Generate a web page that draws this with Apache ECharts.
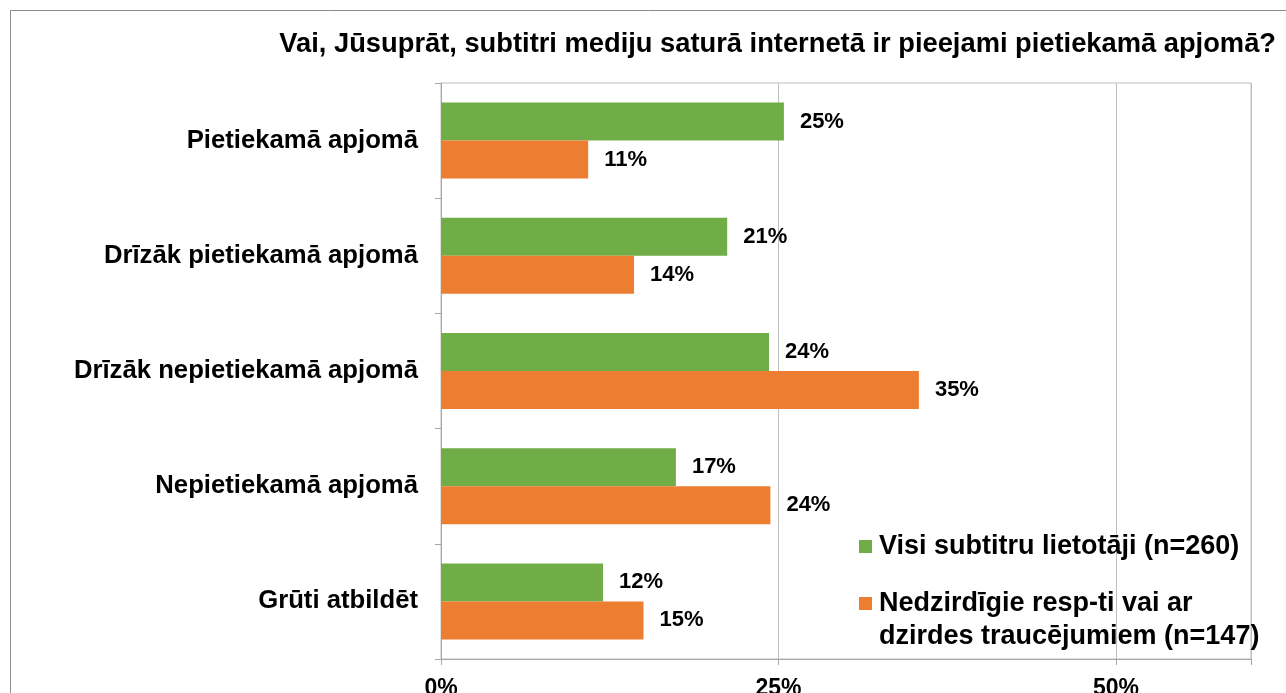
<!DOCTYPE html>
<html>
<head>
<meta charset="utf-8">
<script src="https://cdn.jsdelivr.net/npm/echarts@6/dist/echarts.min.js"></script>
<style>
  html, body { margin: 0; padding: 0; background: #fff; }
  #chart { width: 1286px; height: 693px; }
</style>
</head>
<body>
<div id="chart"></div>
<script>
// data
const categories = [
  'Pietiekamā apjomā',
  'Drīzāk pietiekamā apjomā',
  'Drīzāk nepietiekamā apjomā',
  'Nepietiekamā apjomā',
  'Grūti atbildēt'
];
const allUsers = [25.4, 21.2, 24.3, 17.4, 12.0];
const deafUsers = [10.9, 14.3, 35.4, 24.4, 15.0];
const seriesNames = [
  'Visi subtitru lietotāji (n=260)',
  'Nedzirdīgie resp-ti vai ar\ndzirdes traucējumiem (n=147)'
];
const titleText = 'Vai, Jūsuprāt, subtitri mediju saturā internetā ir pieejami pietiekamā apjomā?';

const font = 'Liberation Sans, Arial, sans-serif';
const gray = '#bfbfbf';

let chart = echarts.init(document.getElementById('chart'));

let barLabel = {
  show: true,
  position: 'right',
  distance: 16,
  color: '#000',
  fontWeight: 'bold',
  fontSize: 22,
  fontFamily: font,
  padding: [6, 0, 0, 0],
  formatter: p => Math.round(p.value) + '%'
};

let legendText = { color: '#000', fontWeight: 'bold', fontSize: 27, fontFamily: font, lineHeight: 33 };

let option = {
  animation: false,
  title: {
    text: titleText,
    right: 10,
    top: 31,
    padding: 0,
    textStyle: { color: '#000', fontWeight: 'bold', fontSize: 27.3, fontFamily: font }
  },
  legend: [{
    data: [seriesNames[0]],
    left: 859,
    top: 528,
    padding: 0,
    icon: 'rect',
    itemWidth: 13,
    itemHeight: 13,
    textStyle: Object.assign({ padding: [4, 0, 0, 2] }, legendText)
  }, {
    data: [seriesNames[1]],
    left: 859,
    top: 554,
    padding: 0,
    icon: 'rect',
    itemWidth: 13,
    itemHeight: 13,
    // empty first line so the icon sits beside the first text line
    formatter: name => '{s| }\n' + name.split('\n').map(l => '{a|' + l + '}').join('\n'),
    textStyle: Object.assign({ rich: { a: legendText, s: legendText }, padding: [0, 0, 0, 2] }, legendText)
  }],
  grid: {
    left: 441,
    right: 35,
    top: 83,
    bottom: 34,
    outerBoundsMode: 'none',
    show: true,
    borderColor: gray,
    borderWidth: 1
  },
  xAxis: {
    type: 'value',
    min: 0,
    max: 60,
    interval: 25,
    axisLine: { show: true, lineStyle: { color: '#a6a6a6' } },
    axisTick: { show: true, length: 6, lineStyle: { color: '#a6a6a6' } },
    splitLine: { show: true, lineStyle: { color: gray } },
    axisLabel: {
      margin: 18,
      color: '#000',
      fontWeight: 'bold',
      fontSize: 23,
      fontFamily: font,
      formatter: v => (v === 60 ? '' : v + '%')
    }
  },
  yAxis: {
    type: 'category',
    data: categories,
    inverse: true,
    axisLine: { show: true, lineStyle: { color: '#a6a6a6' } },
    axisTick: { show: true, length: 6, lineStyle: { color: '#a6a6a6' } },
    axisLabel: {
      margin: 23,
      color: '#000',
      fontWeight: 'bold',
      fontSize: 25.7,
      fontFamily: font,
      padding: [9, 0, 0, 0]
    }
  },
  series: [{
    name: seriesNames[0],
    type: 'bar',
    data: allUsers,
    barGap: '0%',
    barCategoryGap: '34%',
    itemStyle: { color: '#70ad47' },
    label: barLabel
  }, {
    name: seriesNames[1],
    type: 'bar',
    data: deafUsers,
    barGap: '0%',
    barCategoryGap: '34%',
    itemStyle: { color: '#ed7d31' },
    label: barLabel
  }],
  graphic: [{
    type: 'rect',
    shape: { x: 10.5, y: 10.5, width: 1400, height: 800 },
    style: { fill: 'none', stroke: '#8c8c8c', lineWidth: 1 },
    silent: true
  }]
};

chart.setOption(option);
</script>
</body>
</html>
